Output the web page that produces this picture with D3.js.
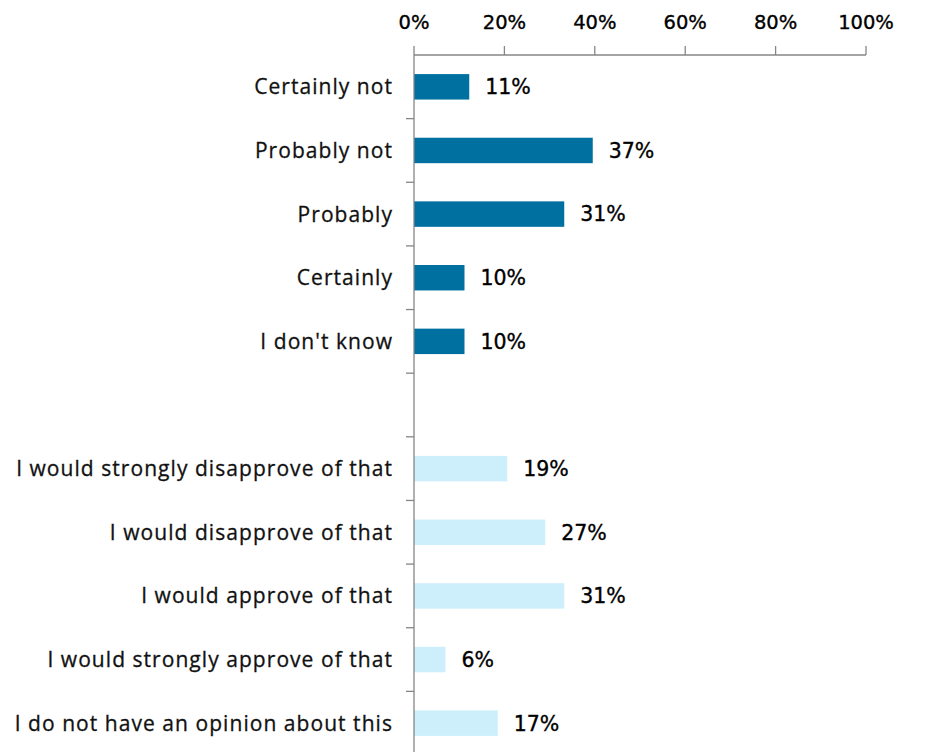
<!DOCTYPE html>
<html><head><meta charset="utf-8">
<script src="https://cdn.jsdelivr.net/npm/d3@7/dist/d3.min.js"></script>
<style>body{margin:0;background:#fff}svg{display:block}</style>
</head><body>
<svg id="chart" width="936" height="752"></svg>
<script>
const categories = ["Certainly not","Probably not","Probably","Certainly","I don't know","",
  "I would strongly disapprove of that","I would disapprove of that","I would approve of that",
  "I would strongly approve of that","I do not have an opinion about this"];
const values = [11,37,31,10,10,null,19,27,31,6,17];
const groups = ["a","a","a","a","a","","b","b","b","b","b"];
const tickValues = [0,20,40,60,80,100];
const colors = {a:"#0070A0", b:"#CDEFFC"};

const svg = d3.select("#chart");
const x = d3.scaleLinear().domain([0,100]).range([414,866]);
// bars in the source image are drawn slightly longer than the axis scale
const xb = d3.scaleLinear().domain([0,100]).range([417,892]);
const y = d3.scaleBand().domain(d3.range(categories.length)).range([55,755]).paddingInner(0.6).paddingOuter(0.3);
const step = y.step();

// top axis
svg.append("line").attr("x1",x(0)).attr("x2",x(100)).attr("y1",55).attr("y2",55)
  .attr("stroke","#868686").attr("stroke-width",1.3);
svg.selectAll(".xt").data(tickValues).join("line")
  .attr("x1",d=>x(d)).attr("x2",d=>x(d)).attr("y1",46).attr("y2",55)
  .attr("stroke","#868686").attr("stroke-width",1.3);
svg.selectAll(".xl").data(tickValues).join("text")
  .attr("x",d=>x(d)).attr("y",29).attr("text-anchor","middle")
  .attr("font-family","DejaVu Sans").attr("font-size",19.5).attr("fill","#000")
  .attr("stroke","#000").attr("stroke-width",0.35)
  .text(d=>d+"%");

// bars
const idx = d3.range(categories.length).filter(i=>values[i]!=null);
svg.selectAll(".bar").data(idx).join("rect")
  .attr("x",x(0)).attr("y",i=>y(i)).attr("width",i=>xb(values[i])-x(0)).attr("height",y.bandwidth())
  .attr("fill",i=>colors[groups[i]]);

// y axis
svg.append("line").attr("x1",x(0)).attr("x2",x(0)).attr("y1",55).attr("y2",760)
  .attr("stroke","#868686").attr("stroke-width",1.3);
const bounds = d3.range(1,categories.length+1).map(i=>55+i*step);
svg.selectAll(".yt").data(bounds).join("line")
  .attr("x1",x(0)-8).attr("x2",x(0)).attr("y1",d=>d).attr("y2",d=>d)
  .attr("stroke","#868686").attr("stroke-width",1.3);

// category labels
svg.selectAll(".cl").data(d3.range(categories.length)).join("text")
  .attr("x",393).attr("y",i=>y(i)+y.bandwidth()/2).attr("dy","0.36em")
  .attr("text-anchor","end").attr("font-family","Open Sans").attr("font-size",21)
  .attr("letter-spacing",1.05).attr("fill","#111").attr("stroke","#111").attr("stroke-width",0.3)
  .text(i=>categories[i]);

// value labels
svg.selectAll(".vl").data(idx).join("text")
  .attr("x",i=>xb(values[i])+16).attr("y",i=>y(i)+y.bandwidth()/2).attr("dy","0.36em")
  .attr("font-family","DejaVu Sans").attr("font-size",20.5).attr("fill","#000")
  .attr("stroke","#000").attr("stroke-width",0.35)
  .text(i=>values[i]+"%");
</script>
</body></html>
